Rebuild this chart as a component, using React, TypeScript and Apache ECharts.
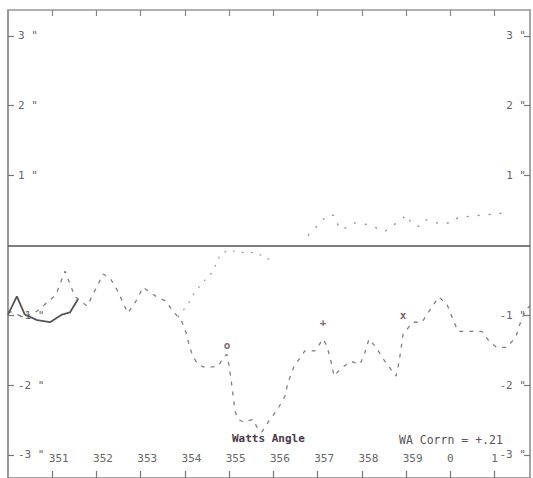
import React, { useEffect, useRef } from "react";
import * as echarts from "echarts";

// x in months (ticks 1..11), y in arc-seconds
const xTickValues = [1, 2, 3, 4, 5, 6, 7, 8, 9, 10, 11];
const xTickLabels = ["351", "352", "353", "354", "355", "356", "357", "358", "359", "0", "1"];
const yTickValues = [-3, -2, -1, 1, 2, 3];

const mainDashed: [number, number][] = [
  [0, -0.94], [0.38, -1.03], [0.66, -0.94], [1.08, -0.71], [1.29, -0.37], [1.51, -0.73],
  [1.79, -0.87], [2.15, -0.41], [2.31, -0.47], [2.46, -0.63], [2.71, -0.97], [2.92, -0.77],
  [3.05, -0.6], [3.21, -0.67], [3.37, -0.74], [3.55, -0.79], [3.73, -0.94], [3.93, -1.09],
  [4.02, -1.24], [4.11, -1.46], [4.18, -1.59], [4.29, -1.7], [4.41, -1.74], [4.63, -1.74],
  [4.75, -1.73], [4.88, -1.6], [4.95, -1.56], [4.99, -1.7], [5.04, -1.91], [5.09, -2.16],
  [5.13, -2.37], [5.2, -2.49], [5.33, -2.53], [5.54, -2.49], [5.65, -2.63], [5.74, -2.67],
  [5.88, -2.53], [6.1, -2.34], [6.26, -2.16], [6.33, -1.96], [6.46, -1.74], [6.71, -1.51],
  [6.94, -1.51], [7.12, -1.34], [7.21, -1.44], [7.3, -1.66], [7.37, -1.87], [7.53, -1.76],
  [7.75, -1.66], [7.96, -1.7], [8.07, -1.53], [8.16, -1.34], [8.32, -1.46], [8.52, -1.66],
  [8.77, -1.87], [8.82, -1.73], [8.88, -1.51], [8.93, -1.27], [9.15, -1.1], [9.36, -1.1],
  [9.52, -0.94], [9.74, -0.74], [9.92, -0.84], [10.06, -1.06], [10.17, -1.23], [10.51, -1.23],
  [10.71, -1.23], [10.9, -1.39], [11.05, -1.46], [11.28, -1.46], [11.48, -1.31], [11.57, -1.13],
  [11.69, -0.94], [11.8, -0.86],
];

const solidStart: [number, number][] = [
  [0, -0.99], [0.2, -0.73], [0.38, -0.99], [0.66, -1.07], [0.95, -1.1], [1.22, -0.99],
  [1.4, -0.96], [1.58, -0.77],
];

const humpDotted: [number, number][] = [
  [3.84, -1.03], [4.07, -0.84], [4.23, -0.66], [4.63, -0.37], [4.79, -0.14], [4.97, -0.07],
  [5.31, -0.1], [5.54, -0.1], [5.81, -0.16], [5.97, -0.23],
];

const upperDotted: [number, number][] = [
  [6.78, 0.14], [6.96, 0.26], [7.23, 0.44], [7.37, 0.43], [7.5, 0.23], [7.69, 0.26],
  [7.87, 0.33], [8.18, 0.29], [8.52, 0.2], [8.82, 0.34], [9.02, 0.44], [9.13, 0.3],
  [9.27, 0.27], [9.43, 0.37], [9.76, 0.31], [10.06, 0.33], [10.17, 0.4], [10.65, 0.43],
  [11.17, 0.46],
];

const markerPoints: [number, number][] = [[4.95, -1.43], [7.12, -1.11], [8.93, -1.0]];
const markerChars = ["o", "+", "x"];

const titleText = "Watts Angle";
const corrText = "WA Corrn = +.21";

const FONT = "DejaVu Sans Mono";

export default function App() {
  const ref = useRef<HTMLDivElement>(null);
  useEffect(() => {
    if (!ref.current) return;
    const chart = echarts.init(ref.current, undefined, { renderer: "svg" });
    const yLabelFmt = (v: number) => `${v} "`;
    const yAxisBase = (pos: "left" | "right", lineColor: string) => ({
      type: "value" as const,
      position: pos,
      min: -3.33,
      max: 3.37,
      splitLine: { show: false },
      axisLine: { show: true, onZero: false, lineStyle: { color: lineColor, width: 1.5 } },
      axisTick: {
        show: true,
        inside: true,
        length: 6,
        customValues: yTickValues,
        lineStyle: { color: "#777", width: 1.2 },
      },
      axisLabel: {
        show: true,
        inside: true,
        margin: pos === "left" ? 10 : 4,
        customValues: yTickValues,
        formatter: yLabelFmt,
        color: "#666",
        fontFamily: FONT,
        fontSize: 11,
      },
    });
    chart.setOption({
      animation: false,
      backgroundColor: "#ffffff",
      grid: { left: 8, right: 3, top: 10, bottom: -2, containLabel: false },
      xAxis: [
        {
          type: "value",
          position: "bottom",
          min: 0,
          max: 11.8,
          splitLine: { show: false },
          axisLine: { show: true, onZero: false, lineStyle: { color: "#888", width: 1.5 } },
          axisTick: {
            show: true,
            inside: true,
            length: 7,
            customValues: xTickValues,
            lineStyle: { color: "#777", width: 1.2 },
          },
          axisLabel: {
            show: true,
            inside: true,
            margin: 14,
            customValues: xTickValues,
            formatter: (v: number) => {
              const s = xTickLabels[Math.round(v) - 1] ?? "";
              return s.length > 1 ? `{d|${s}}` : `{s|${s}}`;
            },
            rich: {
              d: { fontFamily: FONT, fontSize: 11, color: "#666", padding: [0, 0, 0, 13] },
              s: { fontFamily: FONT, fontSize: 11, color: "#666" },
            },
            color: "#666",
            fontFamily: FONT,
            fontSize: 11,
          },
        },
        {
          type: "value",
          position: "top",
          min: 0,
          max: 11.8,
          splitLine: { show: false },
          axisLine: { show: true, onZero: false, lineStyle: { color: "#999", width: 1.5 } },
          axisTick: {
            show: true,
            inside: true,
            length: 6,
            customValues: xTickValues,
            lineStyle: { color: "#888", width: 1.2 },
          },
          axisLabel: { show: false },
        },
      ],
      yAxis: [yAxisBase("left", "#777"), yAxisBase("right", "#888")],
      series: [
        {
          type: "line",
          data: mainDashed,
          symbol: "none",
          lineStyle: { color: "#808080", width: 1.3, type: [4, 6] },
          markLine: {
            silent: true,
            symbol: "none",
            label: { show: false },
            lineStyle: { color: "#555", width: 1.6, type: "solid" },
            data: [{ yAxis: 0 }],
          },
          z: 3,
        },
        {
          type: "line",
          data: solidStart,
          symbol: "none",
          lineStyle: { color: "#555", width: 1.8, type: "solid" },
          z: 4,
        },
        {
          type: "line",
          data: humpDotted,
          symbol: "none",
          lineStyle: { color: "#9a9a9a", width: 1.2, type: [2, 7] },
          z: 2,
        },
        {
          type: "line",
          data: upperDotted,
          symbol: "none",
          lineStyle: { color: "#8a8a8a", width: 1.3, type: [2, 9] },
          z: 2,
        },
        {
          type: "scatter",
          data: markerPoints,
          symbolSize: 1,
          itemStyle: { color: "rgba(0,0,0,0)" },
          label: {
            show: true,
            position: "inside",
            formatter: (p: any) => markerChars[p.dataIndex],
            color: "#5a3c4c",
            fontFamily: FONT,
            fontSize: 11,
            fontWeight: "bold",
          },
          z: 5,
        },
      ],
      graphic: [
        {
          type: "text",
          left: 232,
          top: 433,
          style: {
            text: titleText,
            fill: "#4a3a4a",
            font: `bold 11px "${FONT}"`,
          },
        },
        {
          type: "text",
          left: 399,
          top: 434,
          style: {
            text: corrText,
            fill: "#555",
            font: `11.5px "${FONT}"`,
          },
        },
      ],
    });
    return () => chart.dispose();
  }, []);
  return (
    <div
      ref={ref}
      style={{ position: "absolute", left: 0, top: 0, width: 533, height: 478, background: "#fff" }}
    />
  );
}
